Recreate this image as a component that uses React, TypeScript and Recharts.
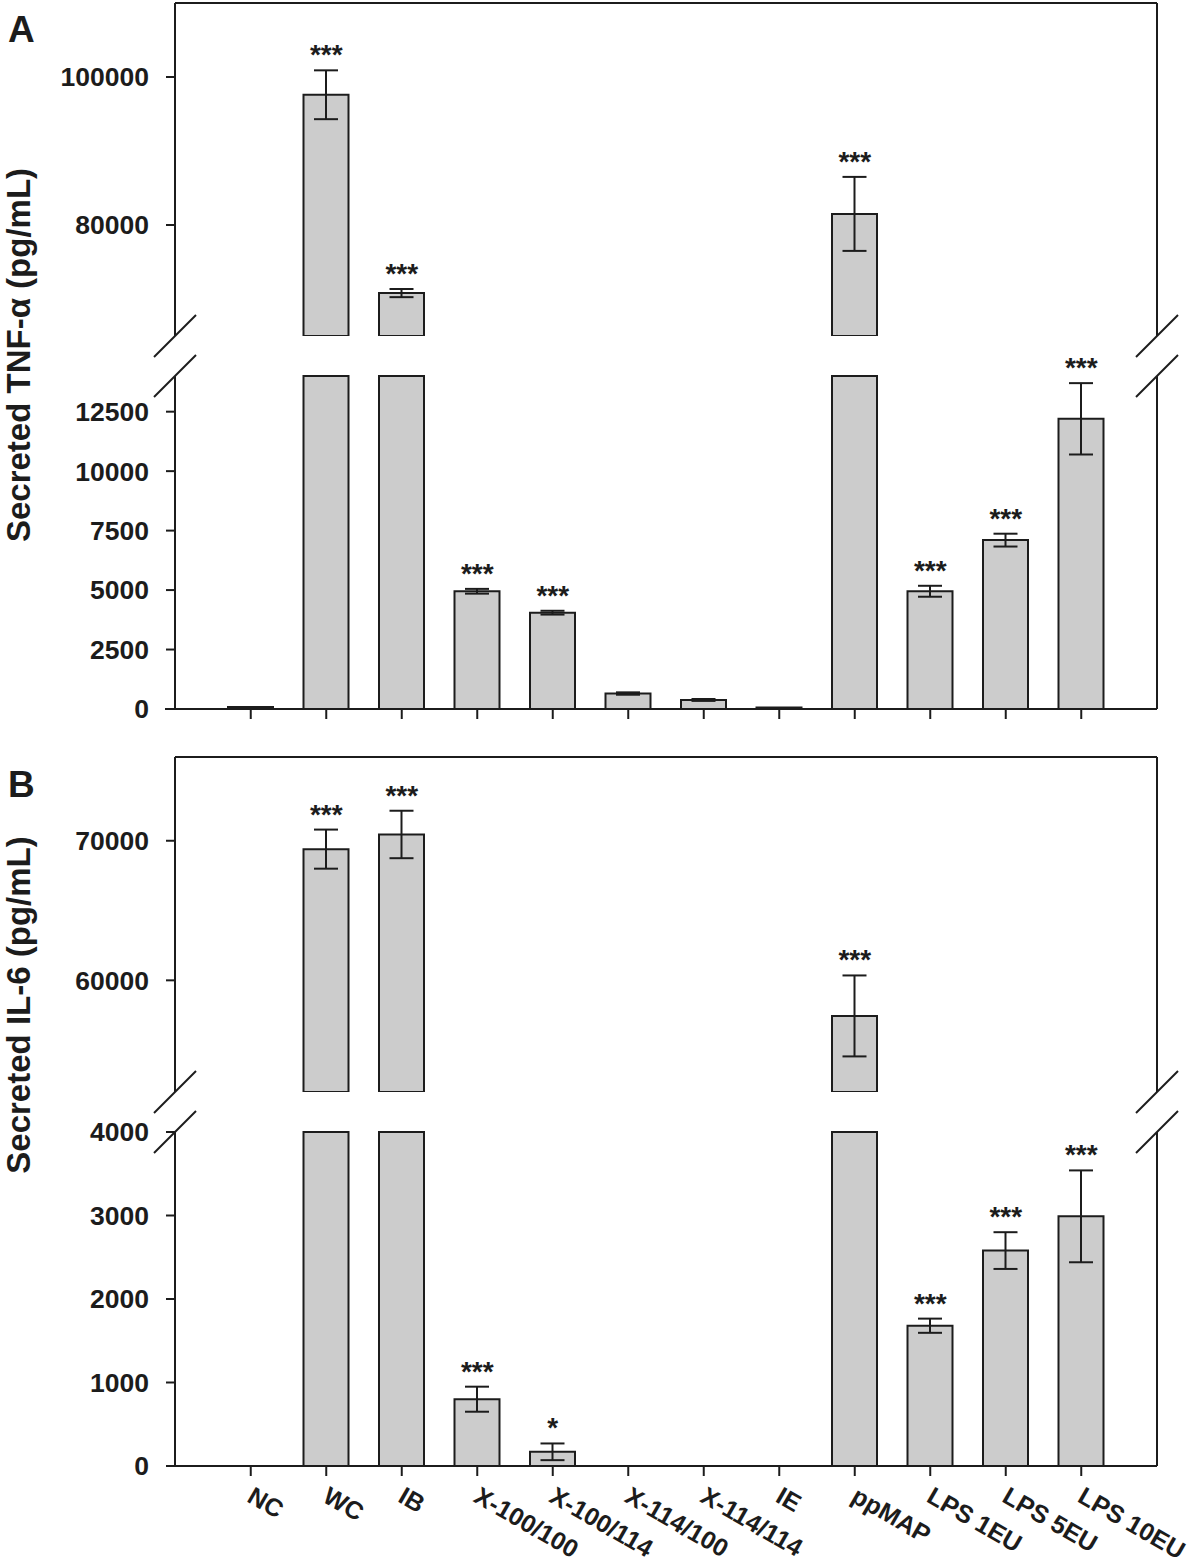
import React from "react";
import {
  Bar,
  ComposedChart,
  ErrorBar,
  ReferenceDot,
  ReferenceLine,
  XAxis,
  YAxis,
} from "recharts";

const categories = [
  "NC",
  "WC",
  "IB",
  "X-100/100",
  "X-100/114",
  "X-114/100",
  "X-114/114",
  "IE",
  "ppMAP",
  "LPS 1EU",
  "LPS 5EU",
  "LPS 10EU",
];

// panel A: TNF-alpha
const tnfMean = [80, 97600, 70800, 4950, 4050, 650, 380, 60, 81500, 4950, 7100, 12200];
const tnfErr = [0, 3300, 550, 100, 80, 50, 40, 0, 5000, 230, 270, 1500];
const tnfStars = ["", "***", "***", "***", "***", "", "", "", "***", "***", "***", "***"];
const tnfUpperDomain = [65000, 110000];
const tnfUpperTicks = [80000, 100000];
const tnfLowerDomain = [0, 14000];
const tnfLowerTicks = [0, 2500, 5000, 7500, 10000, 12500];

// panel B: IL-6
const il6Mean = [0, 69400, 70450, 800, 170, 0, 0, 0, 57450, 1680, 2580, 2990];
const il6Err = [0, 1400, 1700, 150, 100, 0, 0, 0, 2900, 85, 220, 550];
const il6Stars = ["", "***", "***", "***", "*", "", "", "", "***", "***", "***", "***"];
const il6UpperDomain = [52000, 76000];
const il6UpperTicks = [60000, 70000];
const il6LowerDomain = [0, 4000];
const il6LowerTicks = [0, 1000, 2000, 3000, 4000];

const FONT = "'Liberation Sans', Arial, Helvetica, sans-serif";
const INK = "#1c1c1c";
const BAR_FILL = "#cccccc";
const CHART_W = 1200;
const PLOT_LEFT = 175;
const PLOT_RIGHT = 1157;
const M_TOP = 40;

type Row = {
  name: string;
  val: number | null;
  err: number | null;
  star: string;
  starAt: number | null;
};

function segmentRows(means: number[], errs: number[], stars: string[], domain: number[], upper: boolean): Row[] {
  const [lo, hi] = domain;
  return categories.map((name, i) => {
    const m = means[i];
    const own = upper ? m >= lo : m <= hi;
    let val: number | null;
    if (upper) val = m >= lo ? m : null;
    else val = Math.min(m, hi);
    return {
      name,
      val,
      err: own && errs[i] > 0 ? errs[i] : null,
      star: stars[i],
      starAt: own && stars[i] ? m + errs[i] : null,
    };
  });
}

function XLabel(props: any) {
  const { x, y, payload } = props;
  const bx = x - 5;
  const by = y + 23;
  return (
    <text
      x={bx}
      y={by}
      transform={`rotate(30 ${bx} ${by})`}
      textAnchor="start"
      fontFamily={FONT}
      fontWeight="bold"
      fontSize={25}
      fill={INK}
    >
      {payload.value}
    </text>
  );
}

function Segment({
  rows,
  top,
  bottom,
  domain,
  ticks,
  upper,
  axis,
}: {
  rows: Row[];
  top: number;
  bottom: number;
  domain: number[];
  ticks: number[];
  upper: boolean;
  axis: "none" | "ticks" | "labels";
}) {
  const xAxisH = axis === "labels" ? 100 : axis === "ticks" ? 20 : 0;
  const height = M_TOP + (bottom - top) + xAxisH;
  const line = { stroke: INK, strokeWidth: 2 };
  return (
    <div style={{ position: "absolute", left: 0, top: top - M_TOP }}>
      <ComposedChart
        width={CHART_W}
        height={height}
        data={rows}
        style={{ overflow: "visible" }}
        margin={{ top: M_TOP, right: CHART_W - PLOT_RIGHT - 1, bottom: 0, left: 0 }}
      >
        <XAxis
          dataKey="name"
          hide={axis === "none"}
          height={xAxisH}
          padding={{ left: 38, right: 38 }}
          interval={0}
          tickSize={10}
          tickLine={line}
          axisLine={line}
          tick={axis === "labels" ? <XLabel /> : () => <g />}
        />
        <YAxis
          yAxisId="l"
          type="number"
          width={PLOT_LEFT}
          domain={domain}
          ticks={ticks}
          interval={0}
          tickSize={9}
          tickMargin={17}
          tickLine={line}
          axisLine={line}
          tick={{ fill: INK, fontSize: 26.5, fontWeight: 700, fontFamily: FONT }}
        />
        <YAxis
          yAxisId="r"
          type="number"
          orientation="right"
          width={1}
          domain={domain}
          tick={false}
          tickLine={false}
          axisLine={line}
        />
        {upper && <ReferenceLine yAxisId="l" y={domain[1]} stroke={INK} strokeWidth={2} />}
        <Bar
          yAxisId="l"
          dataKey="val"
          barSize={45}
          fill={BAR_FILL}
          stroke={INK}
          strokeWidth={2}
          isAnimationActive={false}
        >
          <ErrorBar dataKey="err" direction="y" width={12} stroke={INK} strokeWidth={2} />
        </Bar>
        {rows.map((r) =>
          r.starAt != null ? (
            <ReferenceDot
              key={r.name}
              yAxisId="l"
              x={r.name}
              y={r.starAt}
              r={0}
              shape={(p: any) => (
                <text
                  x={p.cx}
                  y={p.cy - 6}
                  textAnchor="middle"
                  fontFamily={FONT}
                  fontWeight="bold"
                  fontSize={28}
                  fill={INK}
                >
                  {r.star}
                </text>
              )}
            />
          ) : null
        )}
      </ComposedChart>
    </div>
  );
}

function BreakMarks({ ys }: { ys: number[] }) {
  const xs = [PLOT_LEFT, PLOT_RIGHT];
  return (
    <g stroke={INK} strokeWidth={2}>
      {xs.flatMap((x) =>
        ys.map((y) => <line key={`${x}-${y}`} x1={x - 21} y1={y + 21} x2={x + 21} y2={y - 21} />)
      )}
    </g>
  );
}

export default function App() {
  // panel layout: [upper top, upper bottom, lower top, lower bottom]
  const a = [3, 336, 376, 709];
  const b = [757, 1092, 1132, 1466];
  return (
    <div style={{ position: "absolute", left: 0, top: 0, width: 1200, height: 1565, background: "#fff" }}>
      <Segment
        rows={segmentRows(tnfMean, tnfErr, tnfStars, tnfUpperDomain, true)}
        top={a[0]}
        bottom={a[1]}
        domain={tnfUpperDomain}
        ticks={tnfUpperTicks}
        upper
        axis="none"
      />
      <Segment
        rows={segmentRows(tnfMean, tnfErr, tnfStars, tnfLowerDomain, false)}
        top={a[2]}
        bottom={a[3]}
        domain={tnfLowerDomain}
        ticks={tnfLowerTicks}
        upper={false}
        axis="ticks"
      />
      <Segment
        rows={segmentRows(il6Mean, il6Err, il6Stars, il6UpperDomain, true)}
        top={b[0]}
        bottom={b[1]}
        domain={il6UpperDomain}
        ticks={il6UpperTicks}
        upper
        axis="none"
      />
      <Segment
        rows={segmentRows(il6Mean, il6Err, il6Stars, il6LowerDomain, false)}
        top={b[2]}
        bottom={b[3]}
        domain={il6LowerDomain}
        ticks={il6LowerTicks}
        upper={false}
        axis="labels"
      />
      <svg
        width={1200}
        height={1565}
        style={{ position: "absolute", left: 0, top: 0, pointerEvents: "none" }}
      >
        <BreakMarks ys={[a[1], a[2]]} />
        <BreakMarks ys={[b[1], b[2]]} />
        <line x1={165} y1={a[3]} x2={PLOT_LEFT} y2={a[3]} stroke={INK} strokeWidth={2} />
        <text x={8} y={42} fontFamily={FONT} fontWeight="bold" fontSize={37} fill={INK}>
          A
        </text>
        <text x={8} y={797} fontFamily={FONT} fontWeight="bold" fontSize={37} fill={INK}>
          B
        </text>
        <text
          x={30}
          y={355}
          transform="rotate(-90 30 355)"
          textAnchor="middle"
          fontFamily={FONT}
          fontWeight="bold"
          fontSize={33}
          fill={INK}
        >
          Secreted TNF-α (pg/mL)
        </text>
        <text
          x={30}
          y={1005}
          transform="rotate(-90 30 1005)"
          textAnchor="middle"
          fontFamily={FONT}
          fontWeight="bold"
          fontSize={33}
          fill={INK}
        >
          Secreted IL-6 (pg/mL)
        </text>
      </svg>
    </div>
  );
}
